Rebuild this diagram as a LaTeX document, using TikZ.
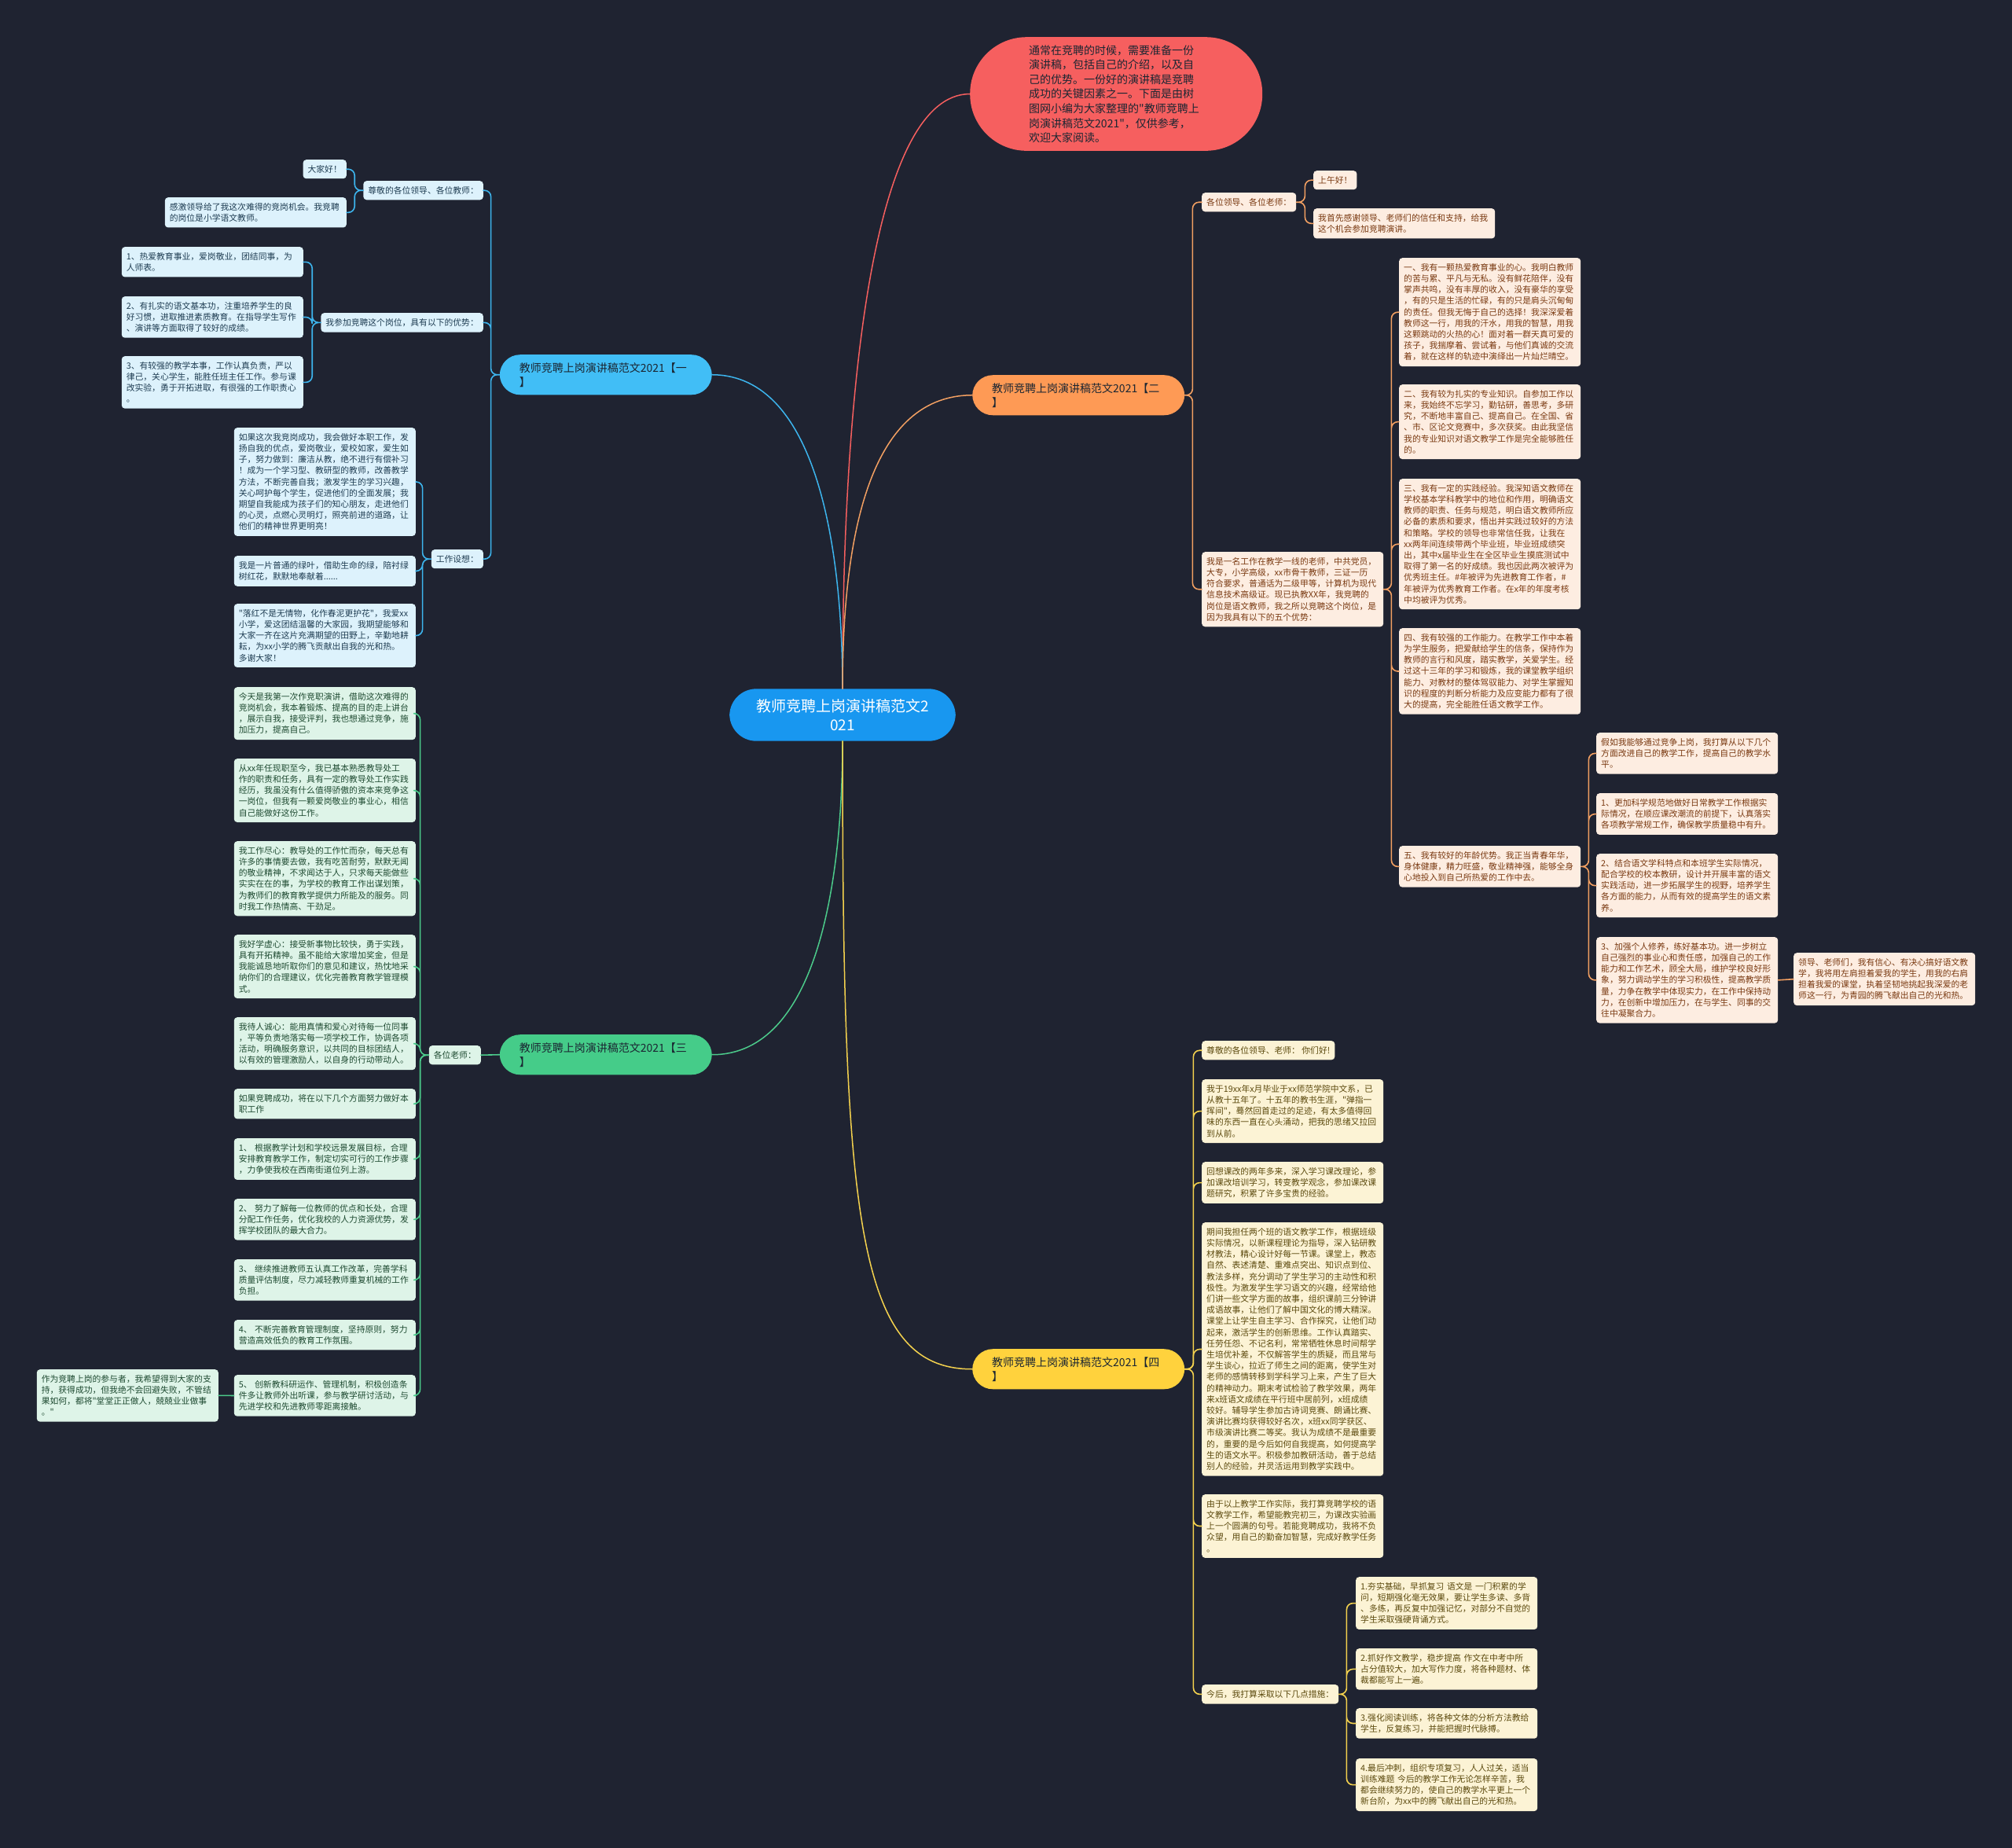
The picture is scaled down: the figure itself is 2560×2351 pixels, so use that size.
\documentclass[tikz,border=0pt]{standalone}
\usepackage{fontspec}
\setmainfont{Noto Sans CJK SC}[Ligatures=TeXOff]
\definecolor{bgc}{HTML}{1F2331}
\definecolor{rootblue}{HTML}{1897F0}
\definecolor{introred}{HTML}{F65F5F}
\definecolor{darktext}{HTML}{1B2632}
\definecolor{bluebr}{HTML}{41BEF6}
\definecolor{blueline}{HTML}{3DB5EE}
\definecolor{bluefill}{HTML}{DDF2FC}
\definecolor{bluetext}{HTML}{1F3D52}
\definecolor{orangebr}{HTML}{FE9A55}
\definecolor{orangeline}{HTML}{F3A062}
\definecolor{orangefill}{HTML}{FDEDE1}
\definecolor{orangetext}{HTML}{7A3A12}
\definecolor{greenbr}{HTML}{45CC89}
\definecolor{greenline}{HTML}{4CCB8B}
\definecolor{greenfill}{HTML}{DEF4E8}
\definecolor{greentext}{HTML}{1E4A31}
\definecolor{yellowbr}{HTML}{FFD23D}
\definecolor{yellowline}{HTML}{F4D24E}
\definecolor{yellowfill}{HTML}{FCF3D5}
\definecolor{yellowtext}{HTML}{5C4A0E}
\tikzset{
  leaf/.style={rounded corners=4pt,inner xsep=6pt,inner ysep=7pt,align=left,font=\fontsize{10.8}{14.2}\selectfont},
  wide/.style={text width=219pt},
  bleaf/.style={leaf,fill=bluefill,text=bluetext},
  gleaf/.style={leaf,fill=greenfill,text=greentext},
  oleaf/.style={leaf,fill=orangefill,text=orangetext},
  yleaf/.style={leaf,fill=yellowfill,text=yellowtext},
  branch/.style={rounded corners=26pt,text width=220pt,inner xsep=25pt,inner ysep=10pt,align=left,text=darktext,font=\fontsize{14}{18}\selectfont},
  trunk/.style={line width=1.5pt},
  blink/.style={draw=blueline,line width=1.6pt,rounded corners=8pt},
  glink/.style={draw=greenline,line width=1.6pt,rounded corners=8pt},
  olink/.style={draw=orangeline,line width=1.6pt,rounded corners=8pt},
  ylink/.style={draw=yellowline,line width=1.6pt,rounded corners=8pt}
}
\begin{document}
\begin{tikzpicture}[x=1pt,y=-1pt,line join=round,line cap=round]
		\fill[bgc] (0,0) rectangle (2560,2351);
		%%%%%%%%%%%%%%% root and intro
		\node[fill=rootblue,text=white,rounded corners=34pt,align=center,inner xsep=34pt,inner ysep=13pt,font=\fontsize{19}{24}\selectfont] (root) at (1072,909.5) {教师竞聘上岗演讲稿范文2\\021};
		\node[fill=introred,text=darktext,rounded corners=72pt,text width=222pt,inner xsep=75pt,inner ysep=10pt,align=left,font=\fontsize{14}{18.6}\selectfont,anchor=north west] (intro) at (1234,47) {通常在竞聘的时候，需要准备一份\\演讲稿，包括自己的介绍，以及自\\己的优势。一份好的演讲稿是竞聘\\成功的关键因素之一。下面是由树\\图网小编为大家整理的"教师竞聘上\\岗演讲稿范文2021"，仅供参考，\\欢迎大家阅读。};
		%%%%%%%%%%%%%%% branches
		\node[branch,fill=bluebr,anchor=north east] (yi) at (906,451) {教师竞聘上岗演讲稿范文2021【一\\】};
		\node[branch,fill=orangebr,anchor=north west] (er) at (1237,477) {教师竞聘上岗演讲稿范文2021【二\\】};
		\node[branch,fill=greenbr,anchor=north east] (san) at (906,1316) {教师竞聘上岗演讲稿范文2021【三\\】};
		\node[branch,fill=yellowbr,anchor=north west] (si) at (1237,1716) {教师竞聘上岗演讲稿范文2021【四\\】};
		\draw[trunk,introred] (root.north) .. controls (1072,500) and (1110,120) .. (intro.west);
		\draw[trunk,blueline] (root.north) .. controls (1072,700) and (1040,477) .. (yi.east);
		\draw[trunk,orangeline] (root.north) .. controls (1072,700) and (1100,503) .. (er.west);
		\draw[trunk,greenline] (root.south) .. controls (1072,1120) and (1040,1342) .. (san.east);
		\draw[trunk,yellowline] (root.south) .. controls (1072,1550) and (1090,1742) .. (si.west);
		%%%%%%%%%%%%%%% branch one
		\node[bleaf,anchor=north east] (yi-a) at (615,230) {尊敬的各位领导、各位教师：};
		\node[bleaf,anchor=north east] (yi-a1) at (441,203) {大家好！};
		\node[bleaf,wide,anchor=north east] (yi-a2) at (441,251) {感激领导给了我这次难得的竞岗机会。我竞聘\\的岗位是小学语文教师。};
		\node[bleaf,anchor=north east] (yi-b) at (615,398) {我参加竞聘这个岗位，具有以下的优势：};
		\node[bleaf,wide,anchor=north east] (yi-b1) at (386,314) {1、热爱教育事业，爱岗敬业，团结同事，为\\人师表。};
		\node[bleaf,wide,anchor=north east] (yi-b2) at (386,377) {2、有扎实的语文基本功，注重培养学生的良\\好习惯，进取推进素质教育。在指导学生写作\\、演讲等方面取得了较好的成绩。};
		\node[bleaf,wide,anchor=north east] (yi-b3) at (386,453) {3、有较强的教学本事，工作认真负责，严以\\律己，关心学生，能胜任班主任工作。参与课\\改实验，勇于开拓进取，有很强的工作职责心\\。};
		\node[bleaf,anchor=north east] (yi-c) at (615,699) {工作设想：};
		\node[bleaf,wide,anchor=north east] (yi-c1) at (529,544) {如果这次我竞岗成功，我会做好本职工作，发\\扬自我的优点，爱岗敬业，爱校如家，爱生如\\子，努力做到：廉洁从教，绝不进行有偿补习\\！成为一个学习型、教研型的教师，改善教学\\方法，不断完善自我；激发学生的学习兴趣，\\关心呵护每个学生，促进他们的全面发展；我\\期望自我能成为孩子们的知心朋友，走进他们\\的心灵，点燃心灵明灯，照亮前进的道路，让\\他们的精神世界更明亮！};
		\node[bleaf,wide,anchor=north east] (yi-c2) at (529,707) {我是一片普通的绿叶，借助生命的绿，陪衬绿\\树红花，默默地奉献着......};
		\node[bleaf,wide,anchor=north east] (yi-c3) at (529,768) {"落红不是无情物，化作春泥更护花"，我爱xx\\小学，爱这团结温馨的大家园，我期望能够和\\大家一齐在这片充满期望的田野上，辛勤地耕\\耘，为xx小学的腾飞贡献出自我的光和热。\\多谢大家！};
		\draw[blink] (yi.west) -- ++(-11,0) |- (yi-a.east) (yi.west) -- ++(-11,0) |- (yi-b.east) (yi.west) -- ++(-11,0) |- (yi-c.east);
		\draw[blink] (yi-a.west) -- ++(-11,0) |- (yi-a1.east) (yi-a.west) -- ++(-11,0) |- (yi-a2.east);
		\draw[blink] (yi-b.west) -- ++(-11,0) |- (yi-b1.east) (yi-b.west) -- ++(-11,0) |- (yi-b2.east) (yi-b.west) -- ++(-11,0) |- (yi-b3.east);
		\draw[blink] (yi-c.west) -- ++(-11,0) |- (yi-c1.east) (yi-c.west) -- ++(-11,0) |- (yi-c2.east) (yi-c.west) -- ++(-11,0) |- (yi-c3.east);
		%%%%%%%%%%%%%%% branch three
		\node[gleaf,anchor=north east] (san-a) at (612,1330) {各位老师：};
		\node[gleaf,wide,anchor=north east] (san-a1) at (529,874) {今天是我第一次作竞职演讲，借助这次难得的\\竞岗机会，我本着锻炼、提高的目的走上讲台\\，展示自我，接受评判，我也想通过竞争，施\\加压力，提高自己。};
		\node[gleaf,wide,anchor=north east] (san-a2) at (529,965) {从xx年任现职至今，我已基本熟悉教导处工\\作的职责和任务，具有一定的教导处工作实践\\经历，我虽没有什么值得骄傲的资本来竞争这\\一岗位，但我有一颗爱岗敬业的事业心，相信\\自己能做好这份工作。};
		\node[gleaf,wide,anchor=north east] (san-a3) at (529,1070) {我工作尽心：教导处的工作忙而杂，每天总有\\许多的事情要去做，我有吃苦耐劳，默默无闻\\的敬业精神，不求闻达于人，只求每天能做些\\实实在在的事，为学校的教育工作出谋划策，\\为教师们的教育教学提供力所能及的服务。同\\时我工作热情高、干劲足。};
		\node[gleaf,wide,anchor=north east] (san-a4) at (529,1189) {我好学虚心：接受新事物比较快，勇于实践，\\具有开拓精神。虽不能给大家增加奖金，但是\\我能诚恳地听取你们的意见和建议，热忱地采\\纳你们的合理建议，优化完善教育教学管理模\\式。};
		\node[gleaf,wide,anchor=north east] (san-a5) at (529,1294) {我待人诚心：能用真情和爱心对待每一位同事\\，平等负责地落实每一项学校工作，协调各项\\活动，明确服务意识，以共同的目标团结人，\\以有效的管理激励人，以自身的行动带动人。};
		\node[gleaf,wide,anchor=north east] (san-a6) at (529,1385) {如果竞聘成功，将在以下几个方面努力做好本\\职工作};
		\node[gleaf,wide,anchor=north east] (san-a7) at (529,1448) {1、 根据教学计划和学校远景发展目标，合理\\安排教育教学工作，制定切实可行的工作步骤\\，力争使我校在西南街道位列上游。};
		\node[gleaf,wide,anchor=north east] (san-a8) at (529,1525) {2、 努力了解每一位教师的优点和长处，合理\\分配工作任务，优化我校的人力资源优势，发\\挥学校团队的最大合力。};
		\node[gleaf,wide,anchor=north east] (san-a9) at (529,1602) {3、 继续推进教师五认真工作改革，完善学科\\质量评估制度，尽力减轻教师重复机械的工作\\负担。};
		\node[gleaf,wide,anchor=north east] (san-a10) at (529,1679) {4、 不断完善教育管理制度，坚持原则，努力\\营造高效低负的教育工作氛围。};
		\node[gleaf,wide,anchor=north east] (san-a11) at (529,1749) {5、 创新教科研运作、管理机制，积极创造条\\件多让教师外出听课，参与教学研讨活动，与\\先进学校和先进教师零距离接触。};
		\node[gleaf,wide,anchor=north east] (san-zuowei) at (278,1742) {作为竞聘上岗的参与者，我希望得到大家的支\\持，获得成功，但我绝不会回避失败，不管结\\果如何，都将"堂堂正正做人，兢兢业业做事\\。"};
		\draw[glink] (san.west) -- (san-a.east);
		\draw[glink] (san-a.west) -- ++(-11,0) |- (san-a1.east) (san-a.west) -- ++(-11,0) |- (san-a2.east) (san-a.west) -- ++(-11,0) |- (san-a3.east) (san-a.west) -- ++(-11,0) |- (san-a4.east) (san-a.west) -- ++(-11,0) |- (san-a5.east) (san-a.west) -- ++(-11,0) |- (san-a6.east);
		\draw[glink] (san-a.west) -- ++(-11,0) |- (san-a7.east) (san-a.west) -- ++(-11,0) |- (san-a8.east) (san-a.west) -- ++(-11,0) |- (san-a9.east) (san-a.west) -- ++(-11,0) |- (san-a10.east) (san-a.west) -- ++(-11,0) |- (san-a11.east);
		\draw[glink] (san-a11.west) -- (san-zuowei.east);
		%%%%%%%%%%%%%%% branch two
		\node[oleaf,anchor=north west] (er-a) at (1529,245) {各位领导、各位老师：};
		\node[oleaf,anchor=north west] (er-a1) at (1671,217) {上午好！};
		\node[oleaf,wide,anchor=north west] (er-a2) at (1671,265) {我首先感谢领导、老师们的信任和支持，给我\\这个机会参加竞聘演讲。};
		\node[oleaf,wide,anchor=north west] (er-b) at (1529,702) {我是一名工作在教学一线的老师，中共党员，\\大专，小学高级，xx市骨干教师，三证一历\\符合要求，普通话为二级甲等，计算机为现代\\信息技术高级证。现已执教XX年，我竞聘的\\岗位是语文教师，我之所以竞聘这个岗位，是\\因为我具有以下的五个优势：};
		\node[oleaf,wide,anchor=north west] (er-b1) at (1780,328) {一、我有一颗热爱教育事业的心。我明白教师\\的苦与累、平凡与无私。没有鲜花陪伴，没有\\掌声共鸣，没有丰厚的收入，没有豪华的享受\\，有的只是生活的忙碌，有的只是肩头沉甸甸\\的责任。但我无悔于自己的选择！我深深爱着\\教师这一行，用我的汗水，用我的智慧，用我\\这颗跳动的火热的心！面对着一群天真可爱的\\孩子，我揣摩着、尝试着，与他们真诚的交流\\着，就在这样的轨迹中演绎出一片灿烂晴空。};
		\node[oleaf,wide,anchor=north west] (er-b2) at (1780,489) {二、我有较为扎实的专业知识。自参加工作以\\来，我始终不忘学习，勤钻研，善思考，多研\\究，不断地丰富自己、提高自己。在全国、省\\、市、区论文竞赛中，多次获奖。由此我坚信\\我的专业知识对语文教学工作是完全能够胜任\\的。};
		\node[oleaf,wide,anchor=north west] (er-b3) at (1780,609) {三、我有一定的实践经验。我深知语文教师在\\学校基本学科教学中的地位和作用，明确语文\\教师的职责、任务与规范，明白语文教师所应\\必备的素质和要求，悟出并实践过较好的方法\\和策略。学校的领导也非常信任我，让我在\\xx两年间连续带两个毕业班，毕业班成绩突\\出，其中x届毕业生在全区毕业生摸底测试中\\取得了第一名的好成绩。我也因此两次被评为\\优秀班主任。\#年被评为先进教育工作者，\#\\年被评为优秀教育工作者。在x年的年度考核\\中均被评为优秀。};
		\node[oleaf,wide,anchor=north west] (er-b4) at (1780,799) {四、我有较强的工作能力。在教学工作中本着\\为学生服务，把爱献给学生的信条，保持作为\\教师的言行和风度，踏实教学，关爱学生。经\\过这十三年的学习和锻炼，我的课堂教学组织\\能力、对教材的整体驾驭能力、对学生掌握知\\识的程度的判断分析能力及应变能力都有了很\\大的提高，完全能胜任语文教学工作。};
		\node[oleaf,wide,anchor=north west] (er-b5) at (1780,1076) {五、我有较好的年龄优势。我正当青春年华，\\身体健康，精力旺盛，敬业精神强，能够全身\\心地投入到自己所热爱的工作中去。};
		\node[oleaf,wide,anchor=north west] (er-b5a) at (2031,932) {假如我能够通过竞争上岗，我打算从以下几个\\方面改进自己的教学工作，提高自己的教学水\\平。};
		\node[oleaf,wide,anchor=north west] (er-b5b) at (2031,1009) {1、更加科学规范地做好日常教学工作根据实\\际情况，在顺应课改潮流的前提下，认真落实\\各项教学常规工作，确保教学质量稳中有升。};
		\node[oleaf,wide,anchor=north west] (er-b5c) at (2031,1086) {2、结合语文学科特点和本班学生实际情况，\\配合学校的校本教研，设计并开展丰富的语文\\实践活动，进一步拓展学生的视野，培养学生\\各方面的能力，从而有效的提高学生的语文素\\养。};
		\node[oleaf,wide,anchor=north west] (er-b5d) at (2031,1192) {3、加强个人修养，练好基本功。进一步树立\\自己强烈的事业心和责任感，加强自己的工作\\能力和工作艺术，顾全大局，维护学校良好形\\象，努力调动学生的学习积极性，提高教学质\\量，力争在教学中体现实力，在工作中保持动\\力，在创新中增加压力，在与学生、同事的交\\往中凝聚合力。};
		\node[oleaf,wide,anchor=north west] (er-lingdao) at (2282,1212) {领导、老师们，我有信心、有决心搞好语文教\\学，我将用左肩担着爱我的学生，用我的右肩\\担着我爱的课堂，执着坚韧地挑起我深爱的老\\师这一行，为青园的腾飞献出自己的光和热。};
		\draw[olink] (er.east) -- ++(10,0) |- (er-a.west) (er.east) -- ++(10,0) |- (er-b.west);
		\draw[olink] (er-a.east) -- ++(11,0) |- (er-a1.west) (er-a.east) -- ++(11,0) |- (er-a2.west);
		\draw[olink] (er-b.east) -- ++(10,0) |- (er-b1.west) (er-b.east) -- ++(10,0) |- (er-b2.west) (er-b.east) -- ++(10,0) |- (er-b3.west) (er-b.east) -- ++(10,0) |- (er-b4.west) (er-b.east) -- ++(10,0) |- (er-b5.west);
		\draw[olink] (er-b5.east) -- ++(10,0) |- (er-b5a.west) (er-b5.east) -- ++(10,0) |- (er-b5b.west) (er-b5.east) -- ++(10,0) |- (er-b5c.west) (er-b5.east) -- ++(10,0) |- (er-b5d.west);
		\draw[olink] (er-b5d.east) -- (er-lingdao.west);
		%%%%%%%%%%%%%%% branch four
		\node[yleaf,anchor=north west] (si-a) at (1529,1324) {尊敬的各位领导、老师： 你们好!};
		\node[yleaf,wide,anchor=north west] (si-b) at (1529,1373) {我于19xx年x月毕业于xx师范学院中文系，已\\从教十五年了。十五年的教书生涯，"弹指一\\挥间"，蓦然回首走过的足迹，有太多值得回\\味的东西一直在心头涌动，把我的思绪又拉回\\到从前。};
		\node[yleaf,wide,anchor=north west] (si-c) at (1529,1478) {回想课改的两年多来，深入学习课改理论，参\\加课改培训学习，转变教学观念，参加课改课\\题研究，积累了许多宝贵的经验。};
		\node[yleaf,wide,anchor=north west] (si-d) at (1529,1555) {期间我担任两个班的语文教学工作，根据班级\\实际情况，以新课程理论为指导，深入钻研教\\材教法，精心设计好每一节课。课堂上，教态\\自然、表述清楚、重难点突出、知识点到位、\\教法多样，充分调动了学生学习的主动性和积\\极性。为激发学生学习语文的兴趣，经常给他\\们讲一些文学方面的故事，组织课前三分钟讲\\成语故事，让他们了解中国文化的博大精深。\\课堂上让学生自主学习、合作探究，让他们动\\起来，激活学生的创新思维。工作认真踏实、\\任劳任怨、不记名利，常常牺牲休息时间帮学\\生培优补差，不仅解答学生的质疑，而且常与\\学生谈心，拉近了师生之间的距离，使学生对\\老师的感情转移到学科学习上来，产生了巨大\\的精神动力。期末考试检验了教学效果，两年\\来x班语文成绩在平行班中居前列，x班成绩\\较好。辅导学生参加古诗词竞赛、朗诵比赛、\\演讲比赛均获得较好名次，x班xx同学获区、\\市级演讲比赛二等奖。我认为成绩不是最重要\\的，重要的是今后如何自我提高，如何提高学\\生的语文水平。积极参加教研活动，善于总结\\别人的经验，并灵活运用到教学实践中。};
		\node[yleaf,wide,anchor=north west] (si-e) at (1529,1901) {由于以上教学工作实际，我打算竞聘学校的语\\文教学工作，希望能教完初三，为课改实验画\\上一个圆满的句号。若能竞聘成功，我将不负\\众望，用自己的勤奋加智慧，完成好教学任务\\。};
		\node[yleaf,anchor=north west] (si-f) at (1529,2143) {今后，我打算采取以下几点措施：};
		\node[yleaf,wide,anchor=north west] (si-f1) at (1725,2006) {1.夯实基础，早抓复习 语文是 一门积累的学\\问，短期强化毫无效果，要让学生多读、多背\\、多练，再反复中加强记忆，对部分不自觉的\\学生采取强硬背诵方式。};
		\node[yleaf,wide,anchor=north west] (si-f2) at (1725,2097) {2.抓好作文教学，稳步提高 作文在中考中所\\占分值较大，加大写作力度，将各种题材、体\\裁都能写上一遍。};
		\node[yleaf,wide,anchor=north west] (si-f3) at (1725,2173) {3.强化阅读训练，将各种文体的分析方法教给\\学生，反复练习，并能把握时代脉搏。};
		\node[yleaf,wide,anchor=north west] (si-f4) at (1725,2237) {4.最后冲刺，组织专项复习，人人过关，适当\\训练难题 今后的教学工作无论怎样辛苦，我\\都会继续努力的，使自己的教学水平更上一个\\新台阶，为xx中的腾飞献出自己的光和热。};
		\draw[ylink] (si.east) -- ++(11,0) |- (si-a.west) (si.east) -- ++(11,0) |- (si-b.west) (si.east) -- ++(11,0) |- (si-c.west);
		\draw[ylink] (si.east) -- ++(11,0) |- (si-d.west) (si.east) -- ++(11,0) |- (si-e.west) (si.east) -- ++(11,0) |- (si-f.west);
		\draw[ylink] (si-f.east) -- ++(10,0) |- (si-f1.west) (si-f.east) -- ++(10,0) |- (si-f2.west) (si-f.east) -- ++(10,0) |- (si-f3.west) (si-f.east) -- ++(10,0) |- (si-f4.west);
\end{tikzpicture}
\end{document}
